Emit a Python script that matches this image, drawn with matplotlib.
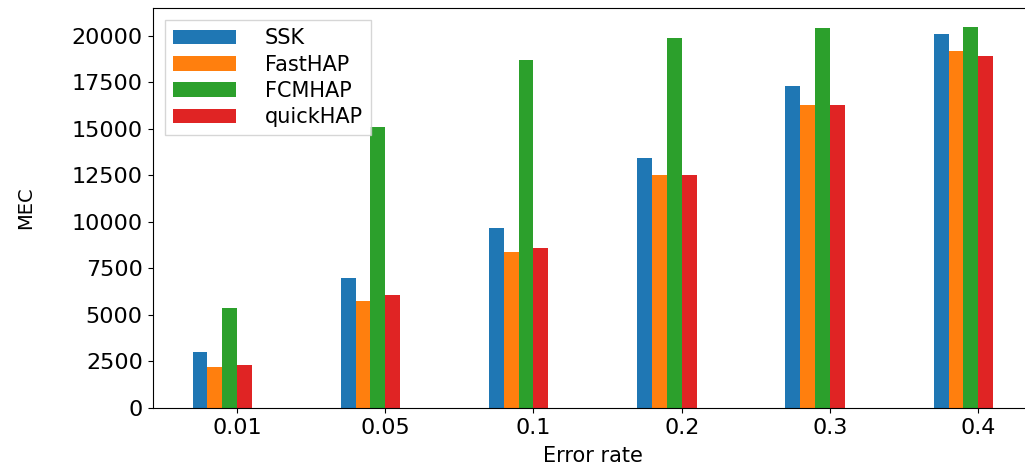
import numpy as np
import matplotlib
matplotlib.use("Agg")
import matplotlib.pyplot as plt

# MEC for each method at each error rate
error_rates = ["0.01", "0.05", "0.1", "0.2", "0.3", "0.4"]
ssk = [3000, 7000, 9700, 13450, 17300, 20100]
fasthap = [2200, 5750, 8400, 12550, 16300, 19200]
fcmhap = [5400, 15100, 18700, 19900, 20400, 20500]
quickhap = [2300, 6100, 8600, 12550, 16300, 18900]

series = [("SSK", ssk, "#1f77b4"),
          ("FastHAP", fasthap, "#ff7f0e"),
          ("FCMHAP", fcmhap, "#2ca02c"),
          ("quickHAP", quickhap, "#e02424")]

fig = plt.figure(figsize=(10.25, 4.73), dpi=100)
ax = fig.add_axes([0.1488, 0.1374, 0.859, 0.8467])

x = np.arange(len(error_rates))
w = 0.1
for i, (name, vals, col) in enumerate(series):
    ax.bar(x - 0.3 + i * w, vals, width=w, align="edge", color=col, label=name)

ax.set_xticks(x)
ax.set_xticklabels(error_rates)
ax.tick_params(labelsize=16)
ax.spines["right"].set_visible(False)
ax.set_xlabel("Error rate", fontsize=15, labelpad=6)
ax.set_ylabel("MEC", fontsize=14)
ax.yaxis.set_label_coords(-0.133, 0.5)

ax.legend(loc="upper left", fontsize=15, handlelength=3.0,
          handletextpad=1.4, labelspacing=0.3, fancybox=False,
          borderaxespad=0.6)

fig.savefig("out.png", dpi=100)
